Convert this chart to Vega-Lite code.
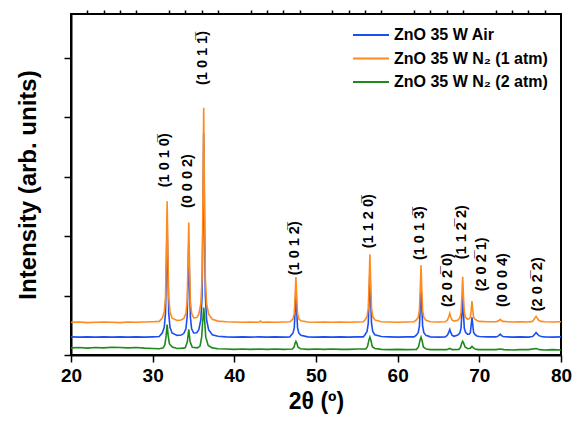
{
"$schema": "https://vega.github.io/schema/vega-lite/v6.json",
"width": 490, "height": 341,
"autosize": {"type": "none"},
"padding": {"left": 71, "top": 14, "right": 13, "bottom": 66},
"background": "white",
"config": {"view": {"stroke": "black", "strokeWidth": 2}, "font": "Liberation Sans"},
"resolve": {"axis": {"x": "independent"}},
"layer": [
{
"data": {"values": [
{"s":"ZnO 35 W Air","t":20,"i":61},{"s":"ZnO 35 W Air","t":21,"i":60},{"s":"ZnO 35 W Air","t":22,"i":61},{"s":"ZnO 35 W Air","t":23,"i":60},{"s":"ZnO 35 W Air","t":24,"i":61},{"s":"ZnO 35 W Air","t":25,"i":60},{"s":"ZnO 35 W Air","t":26,"i":61},{"s":"ZnO 35 W Air","t":27,"i":60},{"s":"ZnO 35 W Air","t":28,"i":61},{"s":"ZnO 35 W Air","t":29,"i":60},{"s":"ZnO 35 W Air","t":30,"i":61},{"s":"ZnO 35 W Air","t":30.8,"i":62},
{"s":"ZnO 35 W Air","t":31.17,"i":74},{"s":"ZnO 35 W Air","t":31.42,"i":93},{"s":"ZnO 35 W Air","t":31.57,"i":139},{"s":"ZnO 35 W Air","t":31.67,"i":274},{"s":"ZnO 35 W Air","t":31.77,"i":447},{"s":"ZnO 35 W Air","t":31.87,"i":274},{"s":"ZnO 35 W Air","t":31.97,"i":139},{"s":"ZnO 35 W Air","t":32.12,"i":93},{"s":"ZnO 35 W Air","t":32.37,"i":74},
{"s":"ZnO 35 W Air","t":33,"i":66},{"s":"ZnO 35 W Air","t":33.5,"i":67},
{"s":"ZnO 35 W Air","t":33.82,"i":73},{"s":"ZnO 35 W Air","t":34.07,"i":88},{"s":"ZnO 35 W Air","t":34.22,"i":127},{"s":"ZnO 35 W Air","t":34.32,"i":238},{"s":"ZnO 35 W Air","t":34.42,"i":381},{"s":"ZnO 35 W Air","t":34.52,"i":238},{"s":"ZnO 35 W Air","t":34.62,"i":127},{"s":"ZnO 35 W Air","t":34.77,"i":88},{"s":"ZnO 35 W Air","t":35.02,"i":74},
{"s":"ZnO 35 W Air","t":35.4,"i":75},
{"s":"ZnO 35 W Air","t":35.65,"i":85},{"s":"ZnO 35 W Air","t":35.9,"i":119},{"s":"ZnO 35 W Air","t":36.05,"i":201},{"s":"ZnO 35 W Air","t":36.15,"i":439},{"s":"ZnO 35 W Air","t":36.25,"i":745},{"s":"ZnO 35 W Air","t":36.35,"i":439},{"s":"ZnO 35 W Air","t":36.45,"i":201},{"s":"ZnO 35 W Air","t":36.6,"i":119},{"s":"ZnO 35 W Air","t":36.85,"i":85},
{"s":"ZnO 35 W Air","t":37.3,"i":68},{"s":"ZnO 35 W Air","t":38,"i":63},{"s":"ZnO 35 W Air","t":39,"i":61},{"s":"ZnO 35 W Air","t":40,"i":60},{"s":"ZnO 35 W Air","t":41,"i":61},{"s":"ZnO 35 W Air","t":42,"i":60},{"s":"ZnO 35 W Air","t":43,"i":61},{"s":"ZnO 35 W Air","t":44,"i":60},{"s":"ZnO 35 W Air","t":45,"i":61},{"s":"ZnO 35 W Air","t":46,"i":60},{"s":"ZnO 35 W Air","t":46.8,"i":61},
{"s":"ZnO 35 W Air","t":46.94,"i":66},{"s":"ZnO 35 W Air","t":47.19,"i":74},{"s":"ZnO 35 W Air","t":47.34,"i":92},{"s":"ZnO 35 W Air","t":47.44,"i":147},{"s":"ZnO 35 W Air","t":47.54,"i":218},{"s":"ZnO 35 W Air","t":47.64,"i":147},{"s":"ZnO 35 W Air","t":47.74,"i":92},{"s":"ZnO 35 W Air","t":47.89,"i":74},{"s":"ZnO 35 W Air","t":48.14,"i":66},
{"s":"ZnO 35 W Air","t":49,"i":61},{"s":"ZnO 35 W Air","t":50,"i":60},{"s":"ZnO 35 W Air","t":51,"i":61},{"s":"ZnO 35 W Air","t":52,"i":60},{"s":"ZnO 35 W Air","t":53,"i":61},{"s":"ZnO 35 W Air","t":54,"i":60},{"s":"ZnO 35 W Air","t":55,"i":61},{"s":"ZnO 35 W Air","t":55.8,"i":61},
{"s":"ZnO 35 W Air","t":56.0,"i":68},{"s":"ZnO 35 W Air","t":56.25,"i":79},{"s":"ZnO 35 W Air","t":56.4,"i":106},{"s":"ZnO 35 W Air","t":56.5,"i":184},{"s":"ZnO 35 W Air","t":56.6,"i":285},{"s":"ZnO 35 W Air","t":56.7,"i":184},{"s":"ZnO 35 W Air","t":56.8,"i":106},{"s":"ZnO 35 W Air","t":56.95,"i":79},{"s":"ZnO 35 W Air","t":57.2,"i":68},
{"s":"ZnO 35 W Air","t":58,"i":62},{"s":"ZnO 35 W Air","t":59,"i":61},{"s":"ZnO 35 W Air","t":60,"i":60},{"s":"ZnO 35 W Air","t":61,"i":61},{"s":"ZnO 35 W Air","t":62,"i":61},
{"s":"ZnO 35 W Air","t":62.26,"i":66},{"s":"ZnO 35 W Air","t":62.51,"i":75},{"s":"ZnO 35 W Air","t":62.66,"i":96},{"s":"ZnO 35 W Air","t":62.76,"i":157},{"s":"ZnO 35 W Air","t":62.86,"i":235},{"s":"ZnO 35 W Air","t":62.96,"i":157},{"s":"ZnO 35 W Air","t":63.06,"i":96},{"s":"ZnO 35 W Air","t":63.21,"i":75},{"s":"ZnO 35 W Air","t":63.46,"i":66},
{"s":"ZnO 35 W Air","t":64,"i":61},{"s":"ZnO 35 W Air","t":65,"i":60},{"s":"ZnO 35 W Air","t":65.8,"i":61},
{"s":"ZnO 35 W Air","t":65.9,"i":62},{"s":"ZnO 35 W Air","t":66.1,"i":67},{"s":"ZnO 35 W Air","t":66.25,"i":76},{"s":"ZnO 35 W Air","t":66.38,"i":86},{"s":"ZnO 35 W Air","t":66.5,"i":76},{"s":"ZnO 35 W Air","t":66.65,"i":67},{"s":"ZnO 35 W Air","t":66.9,"i":63},
{"s":"ZnO 35 W Air","t":67.36,"i":67},{"s":"ZnO 35 W Air","t":67.61,"i":74},{"s":"ZnO 35 W Air","t":67.76,"i":90},{"s":"ZnO 35 W Air","t":67.86,"i":138},{"s":"ZnO 35 W Air","t":67.96,"i":198},{"s":"ZnO 35 W Air","t":68.06,"i":138},{"s":"ZnO 35 W Air","t":68.16,"i":90},{"s":"ZnO 35 W Air","t":68.31,"i":76},{"s":"ZnO 35 W Air","t":68.55,"i":70},
{"s":"ZnO 35 W Air","t":68.75,"i":70},{"s":"ZnO 35 W Air","t":68.9,"i":75},{"s":"ZnO 35 W Air","t":69.0,"i":100},{"s":"ZnO 35 W Air","t":69.1,"i":127},{"s":"ZnO 35 W Air","t":69.2,"i":100},{"s":"ZnO 35 W Air","t":69.3,"i":76},{"s":"ZnO 35 W Air","t":69.45,"i":69},{"s":"ZnO 35 W Air","t":69.7,"i":64},
{"s":"ZnO 35 W Air","t":70,"i":62},{"s":"ZnO 35 W Air","t":71,"i":61},{"s":"ZnO 35 W Air","t":72,"i":61},
{"s":"ZnO 35 W Air","t":72.2,"i":62},{"s":"ZnO 35 W Air","t":72.4,"i":66},{"s":"ZnO 35 W Air","t":72.56,"i":70},{"s":"ZnO 35 W Air","t":72.7,"i":66},{"s":"ZnO 35 W Air","t":72.9,"i":62},
{"s":"ZnO 35 W Air","t":73.5,"i":61},{"s":"ZnO 35 W Air","t":74,"i":60},{"s":"ZnO 35 W Air","t":75,"i":61},{"s":"ZnO 35 W Air","t":76,"i":60},{"s":"ZnO 35 W Air","t":76.5,"i":62},
{"s":"ZnO 35 W Air","t":76.6,"i":64},{"s":"ZnO 35 W Air","t":76.8,"i":71},{"s":"ZnO 35 W Air","t":76.95,"i":76},{"s":"ZnO 35 W Air","t":77.1,"i":71},{"s":"ZnO 35 W Air","t":77.3,"i":65},{"s":"ZnO 35 W Air","t":77.6,"i":62},
{"s":"ZnO 35 W Air","t":78,"i":61},{"s":"ZnO 35 W Air","t":79,"i":60},{"s":"ZnO 35 W Air","t":80,"i":61},

{"s":"ZnO 35 W N₂ (1 atm)","t":20,"i":110},{"s":"ZnO 35 W N₂ (1 atm)","t":21,"i":111},{"s":"ZnO 35 W N₂ (1 atm)","t":22,"i":109},{"s":"ZnO 35 W N₂ (1 atm)","t":23,"i":110},{"s":"ZnO 35 W N₂ (1 atm)","t":24,"i":111},{"s":"ZnO 35 W N₂ (1 atm)","t":25,"i":110},{"s":"ZnO 35 W N₂ (1 atm)","t":26,"i":109},{"s":"ZnO 35 W N₂ (1 atm)","t":27,"i":111},{"s":"ZnO 35 W N₂ (1 atm)","t":28,"i":110},{"s":"ZnO 35 W N₂ (1 atm)","t":29,"i":111},{"s":"ZnO 35 W N₂ (1 atm)","t":30,"i":112},{"s":"ZnO 35 W N₂ (1 atm)","t":30.8,"i":113},
{"s":"ZnO 35 W N₂ (1 atm)","t":31.17,"i":124},{"s":"ZnO 35 W N₂ (1 atm)","t":31.42,"i":145},{"s":"ZnO 35 W N₂ (1 atm)","t":31.57,"i":193},{"s":"ZnO 35 W N₂ (1 atm)","t":31.67,"i":336},{"s":"ZnO 35 W N₂ (1 atm)","t":31.77,"i":517},{"s":"ZnO 35 W N₂ (1 atm)","t":31.87,"i":336},{"s":"ZnO 35 W N₂ (1 atm)","t":31.97,"i":193},{"s":"ZnO 35 W N₂ (1 atm)","t":32.12,"i":145},{"s":"ZnO 35 W N₂ (1 atm)","t":32.37,"i":124},
{"s":"ZnO 35 W N₂ (1 atm)","t":33.0,"i":116},{"s":"ZnO 35 W N₂ (1 atm)","t":33.5,"i":118},
{"s":"ZnO 35 W N₂ (1 atm)","t":33.82,"i":123},{"s":"ZnO 35 W N₂ (1 atm)","t":34.07,"i":140},{"s":"ZnO 35 W N₂ (1 atm)","t":34.22,"i":180},{"s":"ZnO 35 W N₂ (1 atm)","t":34.32,"i":297},{"s":"ZnO 35 W N₂ (1 atm)","t":34.42,"i":446},{"s":"ZnO 35 W N₂ (1 atm)","t":34.52,"i":297},{"s":"ZnO 35 W N₂ (1 atm)","t":34.62,"i":180},{"s":"ZnO 35 W N₂ (1 atm)","t":34.77,"i":140},{"s":"ZnO 35 W N₂ (1 atm)","t":35.02,"i":125},
{"s":"ZnO 35 W N₂ (1 atm)","t":35.4,"i":126},
{"s":"ZnO 35 W N₂ (1 atm)","t":35.65,"i":137},{"s":"ZnO 35 W N₂ (1 atm)","t":35.9,"i":173},{"s":"ZnO 35 W N₂ (1 atm)","t":36.05,"i":259},{"s":"ZnO 35 W N₂ (1 atm)","t":36.15,"i":511},{"s":"ZnO 35 W N₂ (1 atm)","t":36.25,"i":832},{"s":"ZnO 35 W N₂ (1 atm)","t":36.35,"i":511},{"s":"ZnO 35 W N₂ (1 atm)","t":36.45,"i":259},{"s":"ZnO 35 W N₂ (1 atm)","t":36.6,"i":173},{"s":"ZnO 35 W N₂ (1 atm)","t":36.85,"i":137},
{"s":"ZnO 35 W N₂ (1 atm)","t":37.3,"i":120},{"s":"ZnO 35 W N₂ (1 atm)","t":38,"i":114},{"s":"ZnO 35 W N₂ (1 atm)","t":39,"i":112},{"s":"ZnO 35 W N₂ (1 atm)","t":40,"i":111},{"s":"ZnO 35 W N₂ (1 atm)","t":41,"i":110},{"s":"ZnO 35 W N₂ (1 atm)","t":42,"i":111},{"s":"ZnO 35 W N₂ (1 atm)","t":43,"i":110},{"s":"ZnO 35 W N₂ (1 atm)","t":43.2,"i":114},{"s":"ZnO 35 W N₂ (1 atm)","t":43.4,"i":110},{"s":"ZnO 35 W N₂ (1 atm)","t":44,"i":111},{"s":"ZnO 35 W N₂ (1 atm)","t":45,"i":110},{"s":"ZnO 35 W N₂ (1 atm)","t":46,"i":111},{"s":"ZnO 35 W N₂ (1 atm)","t":46.8,"i":112},
{"s":"ZnO 35 W N₂ (1 atm)","t":46.94,"i":115},{"s":"ZnO 35 W N₂ (1 atm)","t":47.19,"i":122},{"s":"ZnO 35 W N₂ (1 atm)","t":47.34,"i":140},{"s":"ZnO 35 W N₂ (1 atm)","t":47.44,"i":194},{"s":"ZnO 35 W N₂ (1 atm)","t":47.54,"i":262},{"s":"ZnO 35 W N₂ (1 atm)","t":47.64,"i":194},{"s":"ZnO 35 W N₂ (1 atm)","t":47.74,"i":140},{"s":"ZnO 35 W N₂ (1 atm)","t":47.89,"i":122},{"s":"ZnO 35 W N₂ (1 atm)","t":48.14,"i":115},
{"s":"ZnO 35 W N₂ (1 atm)","t":49,"i":111},{"s":"ZnO 35 W N₂ (1 atm)","t":50,"i":110},{"s":"ZnO 35 W N₂ (1 atm)","t":51,"i":111},{"s":"ZnO 35 W N₂ (1 atm)","t":52,"i":110},{"s":"ZnO 35 W N₂ (1 atm)","t":53,"i":111},{"s":"ZnO 35 W N₂ (1 atm)","t":54,"i":110},{"s":"ZnO 35 W N₂ (1 atm)","t":55,"i":111},{"s":"ZnO 35 W N₂ (1 atm)","t":55.8,"i":112},
{"s":"ZnO 35 W N₂ (1 atm)","t":56.0,"i":118},{"s":"ZnO 35 W N₂ (1 atm)","t":56.25,"i":129},{"s":"ZnO 35 W N₂ (1 atm)","t":56.4,"i":157},{"s":"ZnO 35 W N₂ (1 atm)","t":56.5,"i":236},{"s":"ZnO 35 W N₂ (1 atm)","t":56.6,"i":339},{"s":"ZnO 35 W N₂ (1 atm)","t":56.7,"i":236},{"s":"ZnO 35 W N₂ (1 atm)","t":56.8,"i":157},{"s":"ZnO 35 W N₂ (1 atm)","t":56.95,"i":129},{"s":"ZnO 35 W N₂ (1 atm)","t":57.2,"i":118},
{"s":"ZnO 35 W N₂ (1 atm)","t":58,"i":112},{"s":"ZnO 35 W N₂ (1 atm)","t":59,"i":111},{"s":"ZnO 35 W N₂ (1 atm)","t":60,"i":110},{"s":"ZnO 35 W N₂ (1 atm)","t":61,"i":111},{"s":"ZnO 35 W N₂ (1 atm)","t":62,"i":112},
{"s":"ZnO 35 W N₂ (1 atm)","t":62.26,"i":117},{"s":"ZnO 35 W N₂ (1 atm)","t":62.51,"i":126},{"s":"ZnO 35 W N₂ (1 atm)","t":62.66,"i":149},{"s":"ZnO 35 W N₂ (1 atm)","t":62.76,"i":216},{"s":"ZnO 35 W N₂ (1 atm)","t":62.86,"i":302},{"s":"ZnO 35 W N₂ (1 atm)","t":62.96,"i":216},{"s":"ZnO 35 W N₂ (1 atm)","t":63.06,"i":149},{"s":"ZnO 35 W N₂ (1 atm)","t":63.21,"i":126},{"s":"ZnO 35 W N₂ (1 atm)","t":63.46,"i":117},
{"s":"ZnO 35 W N₂ (1 atm)","t":64,"i":112},{"s":"ZnO 35 W N₂ (1 atm)","t":65,"i":111},{"s":"ZnO 35 W N₂ (1 atm)","t":65.8,"i":112},
{"s":"ZnO 35 W N₂ (1 atm)","t":65.9,"i":113},{"s":"ZnO 35 W N₂ (1 atm)","t":66.1,"i":118},{"s":"ZnO 35 W N₂ (1 atm)","t":66.25,"i":128},{"s":"ZnO 35 W N₂ (1 atm)","t":66.38,"i":140},{"s":"ZnO 35 W N₂ (1 atm)","t":66.5,"i":128},{"s":"ZnO 35 W N₂ (1 atm)","t":66.65,"i":118},{"s":"ZnO 35 W N₂ (1 atm)","t":66.9,"i":114},
{"s":"ZnO 35 W N₂ (1 atm)","t":67.36,"i":117},{"s":"ZnO 35 W N₂ (1 atm)","t":67.61,"i":125},{"s":"ZnO 35 W N₂ (1 atm)","t":67.76,"i":143},{"s":"ZnO 35 W N₂ (1 atm)","t":67.86,"i":196},{"s":"ZnO 35 W N₂ (1 atm)","t":67.96,"i":263},{"s":"ZnO 35 W N₂ (1 atm)","t":68.06,"i":196},{"s":"ZnO 35 W N₂ (1 atm)","t":68.16,"i":143},{"s":"ZnO 35 W N₂ (1 atm)","t":68.31,"i":127},{"s":"ZnO 35 W N₂ (1 atm)","t":68.55,"i":120},
{"s":"ZnO 35 W N₂ (1 atm)","t":68.75,"i":122},{"s":"ZnO 35 W N₂ (1 atm)","t":68.9,"i":127},{"s":"ZnO 35 W N₂ (1 atm)","t":69.0,"i":150},{"s":"ZnO 35 W N₂ (1 atm)","t":69.1,"i":181},{"s":"ZnO 35 W N₂ (1 atm)","t":69.2,"i":150},{"s":"ZnO 35 W N₂ (1 atm)","t":69.3,"i":127},{"s":"ZnO 35 W N₂ (1 atm)","t":69.45,"i":121},{"s":"ZnO 35 W N₂ (1 atm)","t":69.7,"i":116},
{"s":"ZnO 35 W N₂ (1 atm)","t":70,"i":113},{"s":"ZnO 35 W N₂ (1 atm)","t":71,"i":112},{"s":"ZnO 35 W N₂ (1 atm)","t":72,"i":112},
{"s":"ZnO 35 W N₂ (1 atm)","t":72.2,"i":113},{"s":"ZnO 35 W N₂ (1 atm)","t":72.4,"i":116},{"s":"ZnO 35 W N₂ (1 atm)","t":72.56,"i":120},{"s":"ZnO 35 W N₂ (1 atm)","t":72.7,"i":116},{"s":"ZnO 35 W N₂ (1 atm)","t":72.9,"i":113},
{"s":"ZnO 35 W N₂ (1 atm)","t":73.5,"i":112},{"s":"ZnO 35 W N₂ (1 atm)","t":74,"i":111},{"s":"ZnO 35 W N₂ (1 atm)","t":75,"i":112},{"s":"ZnO 35 W N₂ (1 atm)","t":76,"i":111},{"s":"ZnO 35 W N₂ (1 atm)","t":76.5,"i":113},
{"s":"ZnO 35 W N₂ (1 atm)","t":76.6,"i":116},{"s":"ZnO 35 W N₂ (1 atm)","t":76.8,"i":124},{"s":"ZnO 35 W N₂ (1 atm)","t":76.95,"i":130},{"s":"ZnO 35 W N₂ (1 atm)","t":77.1,"i":124},{"s":"ZnO 35 W N₂ (1 atm)","t":77.3,"i":116},{"s":"ZnO 35 W N₂ (1 atm)","t":77.6,"i":113},
{"s":"ZnO 35 W N₂ (1 atm)","t":78,"i":112},{"s":"ZnO 35 W N₂ (1 atm)","t":79,"i":111},{"s":"ZnO 35 W N₂ (1 atm)","t":80,"i":112},

{"s":"ZnO 35 W N₂ (2 atm)","t":20,"i":24},{"s":"ZnO 35 W N₂ (2 atm)","t":21,"i":25},{"s":"ZnO 35 W N₂ (2 atm)","t":22,"i":23},{"s":"ZnO 35 W N₂ (2 atm)","t":23,"i":25},{"s":"ZnO 35 W N₂ (2 atm)","t":24,"i":24},{"s":"ZnO 35 W N₂ (2 atm)","t":25,"i":26},{"s":"ZnO 35 W N₂ (2 atm)","t":26,"i":25},{"s":"ZnO 35 W N₂ (2 atm)","t":27,"i":24},{"s":"ZnO 35 W N₂ (2 atm)","t":28,"i":25},{"s":"ZnO 35 W N₂ (2 atm)","t":29,"i":23},{"s":"ZnO 35 W N₂ (2 atm)","t":30,"i":22},{"s":"ZnO 35 W N₂ (2 atm)","t":30.8,"i":21},
{"s":"ZnO 35 W N₂ (2 atm)","t":31.3,"i":24},{"s":"ZnO 35 W N₂ (2 atm)","t":31.5,"i":35},{"s":"ZnO 35 W N₂ (2 atm)","t":31.65,"i":65},{"s":"ZnO 35 W N₂ (2 atm)","t":31.77,"i":102},{"s":"ZnO 35 W N₂ (2 atm)","t":31.9,"i":65},{"s":"ZnO 35 W N₂ (2 atm)","t":32.05,"i":38},{"s":"ZnO 35 W N₂ (2 atm)","t":32.4,"i":27},
{"s":"ZnO 35 W N₂ (2 atm)","t":33,"i":22},{"s":"ZnO 35 W N₂ (2 atm)","t":33.8,"i":23},
{"s":"ZnO 35 W N₂ (2 atm)","t":34.0,"i":25},{"s":"ZnO 35 W N₂ (2 atm)","t":34.25,"i":45},{"s":"ZnO 35 W N₂ (2 atm)","t":34.42,"i":86},{"s":"ZnO 35 W N₂ (2 atm)","t":34.58,"i":45},{"s":"ZnO 35 W N₂ (2 atm)","t":34.85,"i":26},
{"s":"ZnO 35 W N₂ (2 atm)","t":35.5,"i":24},{"s":"ZnO 35 W N₂ (2 atm)","t":35.8,"i":30},
{"s":"ZnO 35 W N₂ (2 atm)","t":36.0,"i":60},{"s":"ZnO 35 W N₂ (2 atm)","t":36.12,"i":110},{"s":"ZnO 35 W N₂ (2 atm)","t":36.25,"i":160},{"s":"ZnO 35 W N₂ (2 atm)","t":36.38,"i":110},{"s":"ZnO 35 W N₂ (2 atm)","t":36.5,"i":60},{"s":"ZnO 35 W N₂ (2 atm)","t":36.8,"i":32},
{"s":"ZnO 35 W N₂ (2 atm)","t":37.3,"i":24},{"s":"ZnO 35 W N₂ (2 atm)","t":38,"i":21},{"s":"ZnO 35 W N₂ (2 atm)","t":39,"i":20},{"s":"ZnO 35 W N₂ (2 atm)","t":40,"i":19},{"s":"ZnO 35 W N₂ (2 atm)","t":41,"i":20},{"s":"ZnO 35 W N₂ (2 atm)","t":42,"i":19},{"s":"ZnO 35 W N₂ (2 atm)","t":43,"i":20},{"s":"ZnO 35 W N₂ (2 atm)","t":44,"i":19},{"s":"ZnO 35 W N₂ (2 atm)","t":45,"i":20},{"s":"ZnO 35 W N₂ (2 atm)","t":46,"i":19},{"s":"ZnO 35 W N₂ (2 atm)","t":47.1,"i":20},
{"s":"ZnO 35 W N₂ (2 atm)","t":47.3,"i":26},{"s":"ZnO 35 W N₂ (2 atm)","t":47.45,"i":40},{"s":"ZnO 35 W N₂ (2 atm)","t":47.54,"i":46},{"s":"ZnO 35 W N₂ (2 atm)","t":47.65,"i":40},{"s":"ZnO 35 W N₂ (2 atm)","t":47.8,"i":26},{"s":"ZnO 35 W N₂ (2 atm)","t":48.1,"i":21},
{"s":"ZnO 35 W N₂ (2 atm)","t":49,"i":19},{"s":"ZnO 35 W N₂ (2 atm)","t":50,"i":20},{"s":"ZnO 35 W N₂ (2 atm)","t":51,"i":19},{"s":"ZnO 35 W N₂ (2 atm)","t":52,"i":20},{"s":"ZnO 35 W N₂ (2 atm)","t":53,"i":19},{"s":"ZnO 35 W N₂ (2 atm)","t":54,"i":19},{"s":"ZnO 35 W N₂ (2 atm)","t":55,"i":20},{"s":"ZnO 35 W N₂ (2 atm)","t":56.1,"i":20},
{"s":"ZnO 35 W N₂ (2 atm)","t":56.3,"i":28},{"s":"ZnO 35 W N₂ (2 atm)","t":56.48,"i":50},{"s":"ZnO 35 W N₂ (2 atm)","t":56.6,"i":60},{"s":"ZnO 35 W N₂ (2 atm)","t":56.72,"i":50},{"s":"ZnO 35 W N₂ (2 atm)","t":56.9,"i":28},{"s":"ZnO 35 W N₂ (2 atm)","t":57.2,"i":22},
{"s":"ZnO 35 W N₂ (2 atm)","t":58,"i":19},{"s":"ZnO 35 W N₂ (2 atm)","t":59,"i":18},{"s":"ZnO 35 W N₂ (2 atm)","t":60,"i":19},{"s":"ZnO 35 W N₂ (2 atm)","t":61,"i":18},{"s":"ZnO 35 W N₂ (2 atm)","t":62.3,"i":19},
{"s":"ZnO 35 W N₂ (2 atm)","t":62.55,"i":27},{"s":"ZnO 35 W N₂ (2 atm)","t":62.74,"i":50},{"s":"ZnO 35 W N₂ (2 atm)","t":62.86,"i":60},{"s":"ZnO 35 W N₂ (2 atm)","t":62.98,"i":50},{"s":"ZnO 35 W N₂ (2 atm)","t":63.15,"i":27},{"s":"ZnO 35 W N₂ (2 atm)","t":63.5,"i":20},
{"s":"ZnO 35 W N₂ (2 atm)","t":64,"i":18},{"s":"ZnO 35 W N₂ (2 atm)","t":65,"i":18},{"s":"ZnO 35 W N₂ (2 atm)","t":66,"i":18},{"s":"ZnO 35 W N₂ (2 atm)","t":66.38,"i":22},{"s":"ZnO 35 W N₂ (2 atm)","t":66.7,"i":18},{"s":"ZnO 35 W N₂ (2 atm)","t":67.5,"i":19},
{"s":"ZnO 35 W N₂ (2 atm)","t":67.7,"i":26},{"s":"ZnO 35 W N₂ (2 atm)","t":67.85,"i":40},{"s":"ZnO 35 W N₂ (2 atm)","t":67.96,"i":46},{"s":"ZnO 35 W N₂ (2 atm)","t":68.08,"i":40},{"s":"ZnO 35 W N₂ (2 atm)","t":68.25,"i":27},{"s":"ZnO 35 W N₂ (2 atm)","t":68.6,"i":21},
{"s":"ZnO 35 W N₂ (2 atm)","t":68.9,"i":23},{"s":"ZnO 35 W N₂ (2 atm)","t":69.1,"i":29},{"s":"ZnO 35 W N₂ (2 atm)","t":69.3,"i":23},{"s":"ZnO 35 W N₂ (2 atm)","t":69.6,"i":19},
{"s":"ZnO 35 W N₂ (2 atm)","t":70,"i":18},{"s":"ZnO 35 W N₂ (2 atm)","t":71,"i":18},{"s":"ZnO 35 W N₂ (2 atm)","t":72,"i":18},{"s":"ZnO 35 W N₂ (2 atm)","t":72.56,"i":20},{"s":"ZnO 35 W N₂ (2 atm)","t":73,"i":18},{"s":"ZnO 35 W N₂ (2 atm)","t":74,"i":17},{"s":"ZnO 35 W N₂ (2 atm)","t":75,"i":18},{"s":"ZnO 35 W N₂ (2 atm)","t":76,"i":18},{"s":"ZnO 35 W N₂ (2 atm)","t":76.95,"i":22},{"s":"ZnO 35 W N₂ (2 atm)","t":77.4,"i":18},{"s":"ZnO 35 W N₂ (2 atm)","t":78,"i":17},{"s":"ZnO 35 W N₂ (2 atm)","t":79,"i":18},{"s":"ZnO 35 W N₂ (2 atm)","t":80,"i":17}
]},
"mark": {"type": "line", "strokeWidth": 1.6, "clip": true},
"encoding": {
"x": {"field": "t", "type": "quantitative", "scale": {"domain": [20, 80], "nice": false, "zero": false},
 "axis": {"title": "2θ (º)", "values": [20,30,40,50,60,70,80], "labelOverlap": false, "labelFlush": false,
  "labelFont": "Liberation Sans", "labelFontSize": 19, "labelFontWeight": "bold", "labelColor": "black", "labelPadding": 4,
  "titleFont": "Liberation Sans", "titleFontSize": 23, "titleFontWeight": "bold", "titleColor": "black", "titlePadding": 5,
  "domainColor": "black", "domainWidth": 2, "tickColor": "black", "tickWidth": 1.5, "tickSize": 7, "grid": false}},
"y": {"field": "i", "type": "quantitative", "scale": {"domain": [0, 1147], "nice": false, "zero": true},
 "axis": {"title": "Intensity (arb. units)", "values": [0,50,100,150,200,250,300,350,400,450,500,550,600,650,700,750,800,850,900,950,1000,1050,1100],
  "labels": false, "titleFont": "Liberation Sans", "titleFontSize": 24, "titleFontWeight": "bold", "titleColor": "black", "titlePadding": 23,
  "domainColor": "black", "domainWidth": 2, "tickColor": "black", "tickWidth": 1.5, "tickSize": 7, "grid": false,
  "encode": {"ticks": {"update": {"x2": {"signal": "datum.value % 100 === 0 ? -7 : -4"}}}}}},
"color": {"field": "s", "type": "nominal",
 "scale": {"domain": ["ZnO 35 W Air", "ZnO 35 W N₂ (1 atm)", "ZnO 35 W N₂ (2 atm)"], "range": ["#1d4ef2", "#ff8a1e", "#1e8a1e"]},
 "legend": {"title": null, "orient": "none", "legendX": 290, "legendY": 11, "padding": 0,
  "labelFont": "Liberation Sans", "labelFontSize": 16, "labelFontWeight": "bold", "labelColor": "black", "labelOffset": 13,
  "symbolType": "M-2,0L2,0", "symbolSize": 324, "symbolStrokeWidth": 2, "rowPadding": 5.5}}
}
},
{
"data": {"values": [
{"t":31.54,"i":655,"lab":"(1 0 1 0\u0305)"},
{"t":34.32,"i":585,"lab":"(0 0 0 2)"},
{"t":36.16,"i":999,"lab":"(1 0 1 1\u0305)"},
{"t":47.45,"i":359,"lab":"(1 0 1 2\u0305)"},
{"t":56.51,"i":450,"lab":"(1 1 2 0\u0305)"},
{"t":62.75,"i":410,"lab":"(1 0 1 3\u0305)"},
{"t":66.18,"i":252,"lab":"(2 0 2\u0305 0)"},
{"t":67.89,"i":413,"lab":"(1 1 2\u0305 2)"},
{"t":70.34,"i":305,"lab":"(2 0 2\u0305 1)"},
{"t":72.91,"i":252,"lab":"(0 0 0 4)"},
{"t":77.19,"i":238,"lab":"(2 0 2\u0305 2)"}
]},
"mark": {"type": "text", "angle": 270, "align": "center", "baseline": "middle", "font": "Liberation Sans", "fontSize": 14.5, "fontWeight": "bold", "color": "black"},
"encoding": {
"x": {"field": "t", "type": "quantitative", "scale": {"domain": [20, 80], "nice": false, "zero": false},
 "axis": {"title": null, "values": [22,24,26,28,32,34,36,38,42,44,46,48,52,54,56,58,62,64,66,68,72,74,76,78], "labels": false, "domain": false, "grid": false,
  "tickColor": "black", "tickWidth": 1.5, "tickSize": 4}},
"y": {"field": "i", "type": "quantitative"},
"text": {"field": "lab", "type": "nominal"}
}
}
]
}
